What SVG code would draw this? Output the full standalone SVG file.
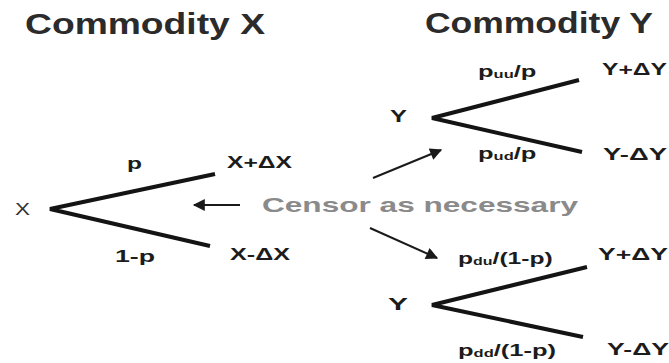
<svg xmlns="http://www.w3.org/2000/svg" width="669" height="363" viewBox="0 0 669 363">
  <style>
    .title { font-family: "Liberation Sans", Arial, sans-serif; font-weight: bold; font-size: 29px; fill: #2b2b2b; }
    .lbl { font-family: "Liberation Sans", Arial, sans-serif; font-weight: bold; font-size: 17px; fill: #1c1c1c; }
    .root { font-family: "Liberation Sans", Arial, sans-serif; font-size: 17px; fill: #333; }
    .sub { font-size: 11px; }
    .note { font-family: "Liberation Sans", Arial, sans-serif; font-weight: bold; font-size: 21px; fill: #8a8a8a; }
    .branch { stroke: #141414; stroke-width: 4; stroke-linecap: butt; fill: none; }
    .arrow { stroke: #1a1a1a; stroke-width: 2; fill: none; }
  </style>
  <defs>
    <marker id="head" viewBox="0 0 10 10" refX="9" refY="5" markerWidth="7" markerHeight="6" markerUnits="strokeWidth" orient="auto">
      <path d="M0,0 L10,5 L0,10 Z" fill="#1a1a1a"/>
    </marker>
  </defs>
  <rect width="669" height="363" fill="#ffffff"/>

  <!-- headings -->
  <text class="title" x="25" y="34" textLength="240" lengthAdjust="spacingAndGlyphs">Commodity X</text>
  <text class="title" x="425" y="33" textLength="228" lengthAdjust="spacingAndGlyphs">Commodity Y</text>

  <!-- tree for commodity X -->
  <g id="tree-x">
    <text class="root" x="15" y="215" textLength="15" lengthAdjust="spacingAndGlyphs">X</text>
    <text class="lbl" x="127" y="169" textLength="15" lengthAdjust="spacingAndGlyphs">p</text>
    <text class="lbl" x="115" y="262" textLength="40" lengthAdjust="spacingAndGlyphs">1-p</text>
    <text class="lbl" x="227" y="168" textLength="65" lengthAdjust="spacingAndGlyphs">X+ΔX</text>
    <text class="lbl" x="230" y="260" textLength="60" lengthAdjust="spacingAndGlyphs">X-ΔX</text>
  </g>

  <!-- upper tree for commodity Y -->
  <g id="tree-y-up">
    <text class="lbl" x="390" y="122" textLength="17" lengthAdjust="spacingAndGlyphs">Y</text>
    <text class="lbl" transform="translate(478,77) scale(1.5,1)">p<tspan class="sub" dy="1">uu</tspan><tspan dy="-1">/p</tspan></text>
    <text class="lbl" x="602" y="75" textLength="65" lengthAdjust="spacingAndGlyphs">Y+ΔY</text>
    <text class="lbl" transform="translate(478,159) scale(1.5,1)">p<tspan class="sub" dy="1">ud</tspan><tspan dy="-1">/p</tspan></text>
    <text class="lbl" x="603" y="160" textLength="64" lengthAdjust="spacingAndGlyphs">Y-ΔY</text>
  </g>

  <!-- lower tree for commodity Y -->
  <g id="tree-y-down">
    <text class="lbl" x="388" y="310" textLength="20" lengthAdjust="spacingAndGlyphs">Y</text>
    <text class="lbl" transform="translate(458,264) scale(1.45,1)">p<tspan class="sub" dy="1">du</tspan><tspan dy="-1">/(1-p)</tspan></text>
    <text class="lbl" x="598" y="260" textLength="70" lengthAdjust="spacingAndGlyphs">Y+ΔY</text>
    <text class="lbl" transform="translate(458,356) scale(1.5,1)">p<tspan class="sub" dy="1">dd</tspan><tspan dy="-1">/(1-p)</tspan></text>
    <text class="lbl" x="607" y="355" textLength="62" lengthAdjust="spacingAndGlyphs">Y-ΔY</text>
  </g>

  <!-- censoring note -->
  <g id="note">
    <text class="note" x="262" y="212" textLength="316" lengthAdjust="spacingAndGlyphs">Censor as necessary</text>
  </g>

  <!-- branches and arrows -->
  <g id="connectors">
    <path class="branch" d="M215,174 L50,209 L210,246"/>
    <path class="branch" d="M579,80 L432,118 L582,152"/>
    <path class="branch" d="M587,267 L432,305 L583,337"/>
    <line class="arrow" x1="240" y1="205" x2="194" y2="205" marker-end="url(#head)"/>
    <line class="arrow" x1="373" y1="178" x2="441" y2="150" marker-end="url(#head)"/>
    <line class="arrow" x1="370" y1="228" x2="437" y2="258" marker-end="url(#head)"/>
  </g>
</svg>
